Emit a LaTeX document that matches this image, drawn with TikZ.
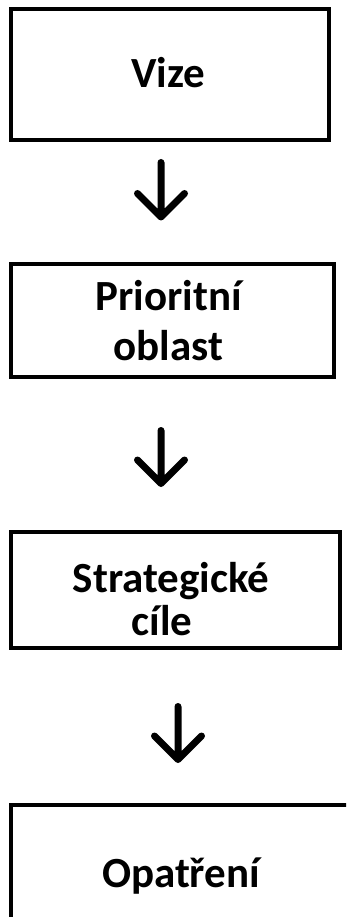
\documentclass[tikz,border=0pt]{standalone}
\usepackage{fontspec}
\setmainfont{Carlito}
\usetikzlibrary{calc}
\newcommand{\tp}[1]{\rule{0pt}{#1}}
\newcommand{\bt}[1]{\rule[-#1]{0pt}{0pt}}
\begin{document}
\begin{tikzpicture}[x=1pt,y=-1pt,
  box/.style={draw, line width=4pt, rectangle, inner sep=0pt, align=center,
    font=\fontsize{43}{50}\selectfont\bfseries},
  downarrow/.style={line width=7pt, line cap=round, line join=round}]
\clip (0,0) rectangle (346,917);
\node[box, minimum width=318pt, minimum height=131pt] (b1) at (170,74.5)
  {\tp{35pt}Vize\bt{8pt}\hspace*{3pt}};
\node[box, minimum width=323pt, minimum height=113pt] (b2) at (172.5,320.5)
  {\tp{39pt}Prioritní\hspace*{8pt}\\oblast\bt{10pt}\hspace*{8pt}};
\node[box, minimum width=329pt, minimum height=116pt,
  font=\fontsize{43}{43}\selectfont\bfseries] (b3) at (175.5,590)
  {\tp{52pt}Strategické\hspace*{9pt}\\cíle\bt{5pt}\hspace*{27pt}};
\node[box, minimum width=340pt, minimum height=131pt] (b4) at (181,870.5)
  {\tp{40pt}Opatření\bt{7pt}};
\coordinate (a1s) at (161,162.5);
\coordinate (a1e) at (161,217);
\coordinate (a2s) at (161,430.5);
\coordinate (a2e) at (161,483.5);
\coordinate (a3s) at (178,706.5);
\coordinate (a3e) at (178,759.5);
\foreach \s/\e in {a1s/a1e,a2s/a2e,a3s/a3e}
  \draw[downarrow] (\s) -- (\e) ($(\e)+(-23.5,-23.5)$) -- (\e) -- ($(\e)+(23.5,-23.5)$);
\end{tikzpicture}
\end{document}
